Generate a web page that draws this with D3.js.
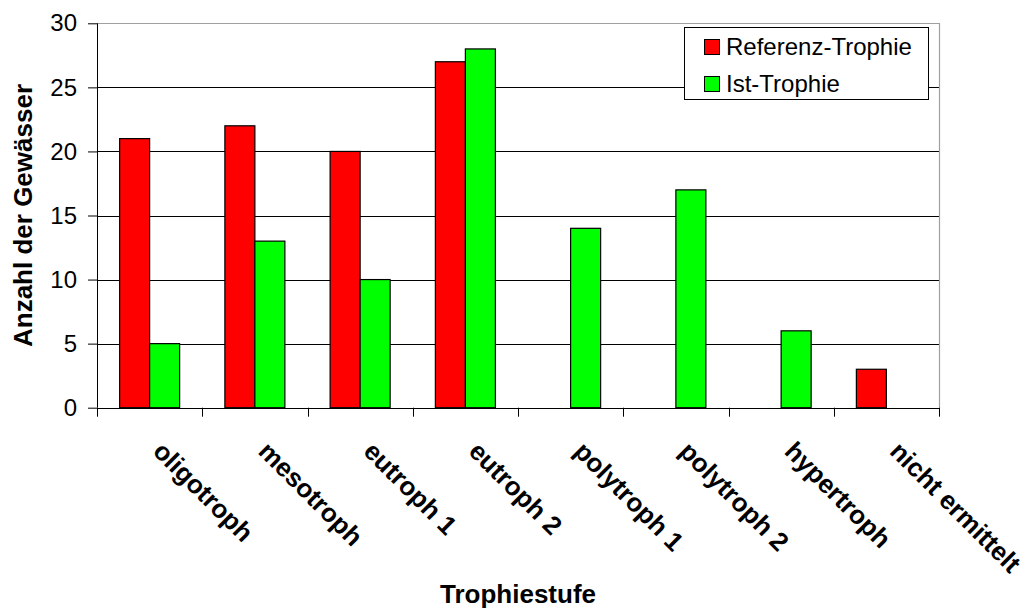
<!DOCTYPE html>
<html>
<head>
<meta charset="utf-8">
<script src="https://cdn.jsdelivr.net/npm/d3@7"></script>
<style>
  html, body { margin: 0; padding: 0; background: #fff; }
  svg { display: block; font-family: "Liberation Sans", Arial, Helvetica, sans-serif; }
</style>
</head>
<body>
<svg id="chart" width="1029" height="610"></svg>
<script>
// Trophic levels and number of water bodies per level
const categories = ["oligotroph", "mesotroph", "eutroph 1", "eutroph 2",
                    "polytroph 1", "polytroph 2", "hypertroph", "nicht ermittelt"];
const seriesNames = ["Referenz-Trophie", "Ist-Trophie"];
const referenzTrophie = [21, 22, 20, 27, 0, 0, 0, 3];
const istTrophie = [5, 13, 10, 28, 14, 17, 6, 0];
const yTicks = [0, 5, 10, 15, 20, 25, 30];
const colors = ["#ff0000", "#00ff00"];

const svg = d3.select("#chart");
const plot = { left: 97, right: 939, top: 23.3, bottom: 407.7 };

const x = d3.scaleBand().domain(categories).range([plot.left, plot.right]).padding(0);
const xSub = d3.scaleBand().domain(seriesNames).range([0, x.bandwidth()])
  .paddingInner(0).paddingOuter(0.754);
const y = d3.scaleLinear().domain([0, 30]).range([plot.bottom, plot.top]);

const rows = categories.map((c, i) => ({
  cat: c,
  values: [
    { name: seriesNames[0], value: referenzTrophie[i], color: colors[0] },
    { name: seriesNames[1], value: istTrophie[i], color: colors[1] }
  ]
}));

// horizontal grid lines
svg.append("g")
  .selectAll("line")
  .data(yTicks.filter(t => t > 0 && t < 30))
  .join("line")
  .attr("x1", plot.left).attr("x2", plot.right)
  .attr("y1", d => Math.round(y(d)) + 0.5).attr("y2", d => Math.round(y(d)) + 0.5)
  .attr("stroke", "#000").attr("stroke-width", 1);

// plot frame: top and right edges
svg.append("path")
  .attr("d", `M${plot.left},${Math.round(y(30)) + 0.5}H${plot.right + 0.5}V${plot.bottom}`)
  .attr("fill", "none").attr("stroke", "#a0a0a0").attr("stroke-width", 1.2);

// bars
const groups = svg.append("g").selectAll("g")
  .data(rows).join("g")
  .attr("transform", d => `translate(${x(d.cat)},0)`);

groups.selectAll("rect")
  .data(d => d.values.filter(v => v.value > 0))
  .join("rect")
  .attr("x", d => xSub(d.name))
  .attr("y", d => y(d.value))
  .attr("width", xSub.bandwidth())
  .attr("height", d => y(0) - y(d.value))
  .attr("fill", d => d.color)
  .attr("stroke", "#000")
  .attr("stroke-width", 1.2);

// y axis
const yAxis = svg.append("g")
  .attr("transform", `translate(${plot.left},0)`)
  .call(d3.axisLeft(y).tickValues(yTicks).tickSize(9).tickPadding(11).tickFormat(d3.format("d")));
yAxis.select(".domain").attr("stroke", "#000").attr("d", `M0.5,${plot.top}V${plot.bottom}`);
yAxis.selectAll(".tick line").attr("stroke", "#000");
yAxis.selectAll(".tick text").attr("font-size", 24).attr("fill", "#000")
  .attr("font-family", "'Liberation Sans', Arial, sans-serif");

// x axis baseline and category separators
const xAxis = svg.append("g");
xAxis.append("line")
  .attr("x1", plot.left).attr("x2", plot.right)
  .attr("y1", Math.round(plot.bottom) + 0.5).attr("y2", Math.round(plot.bottom) + 0.5)
  .attr("stroke", "#000").attr("stroke-width", 1.2);
const boundaries = categories.map(c => x(c)).concat([x.range()[1]]);
xAxis.selectAll("line.sep")
  .data(boundaries).join("line").attr("class", "sep")
  .attr("x1", d => Math.round(d) + 0.5).attr("x2", d => Math.round(d) + 0.5)
  .attr("y1", plot.bottom).attr("y2", plot.bottom + 9)
  .attr("stroke", "#000");

// rotated category labels
xAxis.selectAll("text")
  .data(categories).join("text")
  .attr("transform", d => `translate(${x(d) + x.bandwidth() / 2 + 2},${plot.bottom + 45}) rotate(45)`)
  .attr("font-size", 26).attr("font-weight", "bold").attr("fill", "#000")
  .attr("text-anchor", "start")
  .text(d => d);

// axis titles
svg.append("text")
  .attr("x", (plot.left + plot.right) / 2).attr("y", 603)
  .attr("text-anchor", "middle").attr("font-size", 26).attr("font-weight", "bold")
  .text("Trophiestufe");

svg.append("text")
  .attr("transform", `translate(32,${(plot.top + plot.bottom) / 2}) rotate(-90)`)
  .attr("text-anchor", "middle").attr("font-size", 26).attr("font-weight", "bold")
  .text("Anzahl der Gewässer");

// legend
const legend = svg.append("g");
legend.append("rect")
  .attr("x", 684.5).attr("y", 27.5).attr("width", 244).attr("height", 72)
  .attr("fill", "#fff").attr("stroke", "#000").attr("stroke-width", 1);
const items = legend.selectAll("g.item")
  .data(seriesNames).join("g").attr("class", "item")
  .attr("transform", (d, i) => `translate(704,${39 + i * 37})`);
items.append("rect")
  .attr("x", 0.5).attr("y", 0.5).attr("width", 15).attr("height", 15)
  .attr("fill", (d, i) => colors[i]).attr("stroke", "#000").attr("stroke-width", 1);
items.append("text")
  .attr("x", 22).attr("y", 16)
  .attr("font-size", 24).attr("fill", "#000")
  .text(d => d);
</script>
</body>
</html>
